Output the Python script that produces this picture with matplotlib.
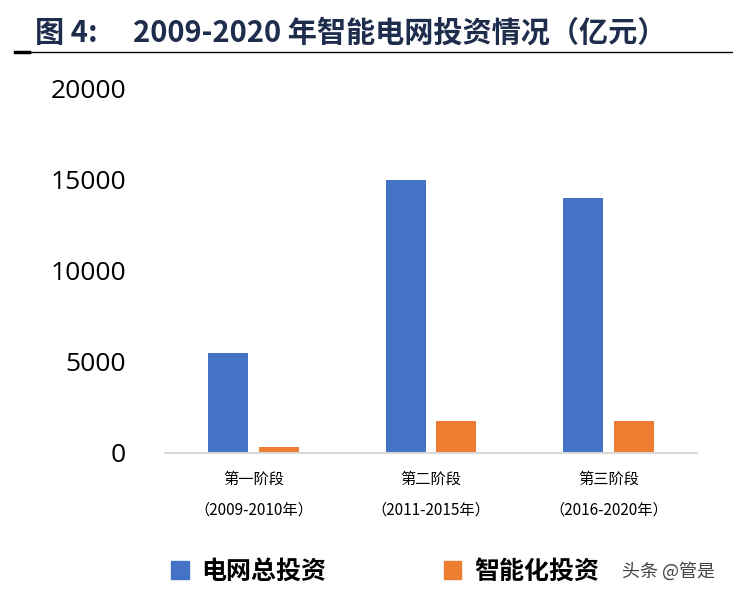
import matplotlib.pyplot as plt
import numpy as np
from matplotlib.patches import Patch

plt.rcParams['font.family'] = ['Noto Sans CJK SC', 'DejaVu Sans']

# data (亿元)
stages = ['第一阶段\n（2009-2010年）', '第二阶段\n（2011-2015年）', '第三阶段\n（2016-2020年）']
total_invest = [5510, 15000, 14000]
smart_invest = [341, 1750, 1750]
yticks = [0, 5000, 10000, 15000, 20000]

blue = '#4472C4'
orange = '#ED7D31'

fig = plt.figure(figsize=(7.33, 6), dpi=100)
ax = fig.add_axes([0.225, 0.245, 0.726, 0.607])

x = np.arange(len(stages))
w = 0.226
ax.bar(x - 0.143, total_invest, w, color=blue, zorder=2)
ax.bar(x + 0.143, smart_invest, w, color=orange, zorder=2)

ax.set_xlim(-0.5, 2.5)
ax.set_ylim(0, 20000)
ax.set_yticks(yticks)
ax.set_yticklabels([str(v) for v in yticks], fontsize=19, family=['Open Sans', 'DejaVu Sans'])
ax.set_xticks(x)
ax.set_xticklabels(stages, fontsize=11, linespacing=2.0)
ax.tick_params(axis='both', length=0)
ax.tick_params(axis='y', pad=28)
ax.tick_params(axis='x', pad=13)
for s in ['top', 'right', 'left']:
    ax.spines[s].set_visible(False)
ax.spines['bottom'].set_color('#D9D9D9')
ax.spines['bottom'].set_linewidth(1.5)

# title
fig.text(0.048, 0.945, '图 4:', fontsize=21, fontweight='bold', color='#1F2D4D', va='center')
fig.text(0.182, 0.945, '2009-2020 年智能电网投资情况（亿元）', fontsize=21, fontweight='bold',
         color='#1F2D4D', va='center')
fig.add_artist(plt.Line2D([0.025, 1.0], [0.913, 0.913], color='black', lw=1))
fig.add_artist(plt.Line2D([0.02, 0.04], [0.913, 0.913], color='black', lw=2.5))

# legend
handles = [Patch(color=blue, label='电网总投资'), Patch(color=orange, label='智能化投资')]
fig.legend(handles=handles, loc='center left', bbox_to_anchor=(0.203, 0.047), ncol=2,
           frameon=False, prop={'size': 18, 'weight': 'bold'},
           handlelength=0.7, handleheight=0.7, handletextpad=0.5, columnspacing=4.7)
fig.text(0.848, 0.047, '头条 @管是', fontsize=13, color='#444444', va='center')

fig.savefig('out.png', dpi=100)
